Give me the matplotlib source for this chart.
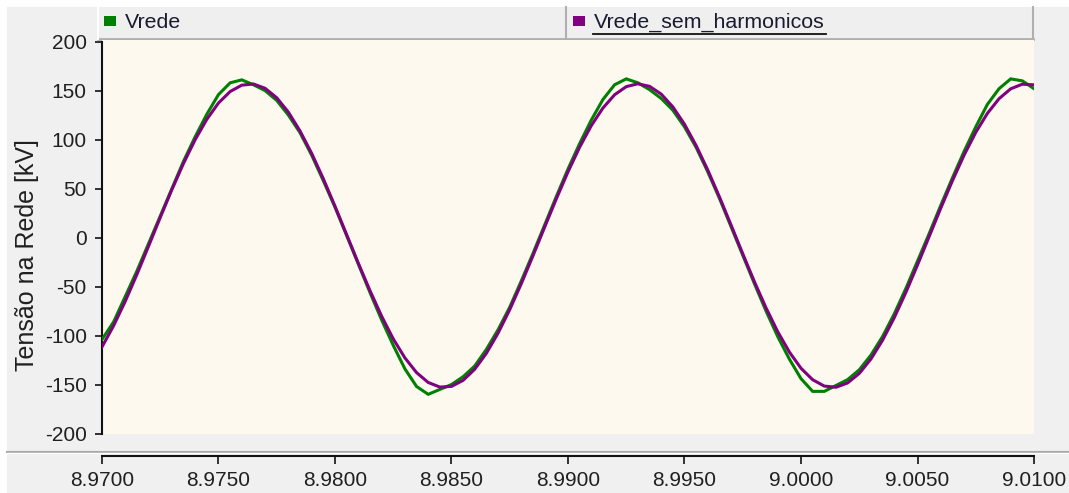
import matplotlib
matplotlib.use("Agg")
import matplotlib.pyplot as plt
from matplotlib.patches import Rectangle
from matplotlib.lines import Line2D
import numpy as np

plt.rcParams['font.family'] = ['Liberation Sans', 'DejaVu Sans']

t_start = 8.970
t_step = 0.0005
# Vrede (with harmonics) [kV]
vrede = [-104, -86, -60, -34, -6, 22, 50, 78, 103, 126,
         146, 158, 161, 156, 150, 140, 125, 107, 84, 58,
         31, 2, -27, -56, -84, -110, -134, -152, -160, -155,
         -150, -142, -131, -114, -94, -71, -44, -16, 13, 42,
         70, 96, 120, 141, 156, 162, 158, 151, 142, 130,
         113, 92, 67, 40, 11, -18, -47, -75, -101, -124,
         -144, -157, -157, -151, -145, -135, -120, -101, -78, -52,
         -24, 4, 33, 61, 88, 113, 136, 152, 162, 160, 152]
# Vrede_sem_harmonicos [kV]
vrede_sh = [-111.6, -89.9, -64.9, -37.5, -8.7, 20.5, 49.0, 75.8, 100.0, 120.8,
            137.4, 149.1, 155.6, 156.8, 152.4, 142.7, 128.0, 108.8, 85.9, 60.0,
            32.0, 3.0, -26.1, -54.1, -80.2, -103.4, -122.8, -137.8, -147.9, -152.6,
            -151.9, -145.7, -134.3, -118.0, -97.5, -73.5, -46.8, -18.4, 10.8, 39.6,
            67.1, 92.3, 114.3, 132.3, 145.8, 154.1, 157.0, 154.4, 146.5, 133.4,
            115.7, 93.9, 68.9, 41.5, 12.7, -16.5, -45.0, -71.8, -96.0, -116.8,
            -133.4, -145.1, -151.6, -152.8, -148.4, -138.7, -124.0, -104.8, -81.9, -56.0,
            -28.0, 1.0, 30.1, 58.1, 84.2, 107.4, 126.8, 141.8, 151.9, 156.6, 155.9]

series_names = ["Vrede", "Vrede_sem_harmonicos"]
series_colors = ["#008000", "#800080"]
xticks = [8.9700, 8.9750, 8.9800, 8.9850, 8.9900, 8.9950, 9.0000, 9.0050, 9.0100]
yticks = [-200, -150, -100, -50, 0, 50, 100, 150, 200]
ylabel = "Tensão na Rede [kV]"

t = t_start + t_step * np.arange(len(vrede))

W, H = 1069, 493
fig = plt.figure(figsize=(W / 100, H / 100), dpi=100, facecolor="white")

def fx(px):
    return px / W

def fy(py):
    return 1 - py / H

# gray panel background
fig.patches.append(Rectangle((fx(7), 0), 1 - fx(7), fy(7), transform=fig.transFigure,
                             facecolor="#f0f0f0", edgecolor="none", zorder=0))

# main plot axes
L, R, T, B = 102, 1034, 40, 433.5
ax = fig.add_axes([fx(L), fy(B), fx(R - L), fy(T) - fy(B)])
ax.set_zorder(5)
ax.set_facecolor("#fdf9ef")
ax.plot(t, vrede, color=series_colors[0], lw=2.2, zorder=3, solid_joinstyle="miter")
ax.plot(t, vrede_sh, color=series_colors[1], lw=2.2, zorder=4, solid_joinstyle="miter")
ax.set_xlim(xticks[0], xticks[-1])
ax.set_ylim(-199.5, 201.7)
for s in ["top", "right", "bottom"]:
    ax.spines[s].set_visible(False)
ax.spines["left"].set_bounds(-200, 200)
ax.spines["left"].set_linewidth(1.5)
ax.spines["left"].set_color("#111111")
ax.set_xticks([])
ax.set_yticks(yticks)
ax.set_yticklabels([str(v) for v in yticks])
ax.tick_params(axis="y", direction="out", length=5, width=1.2, color="#111111",
               labelsize=15, labelcolor="#202020", pad=6)
fig.text(fx(27), fy(255), ylabel, rotation=90, ha="center", va="center",
         fontsize=18, color="#202020", zorder=6)

# x axis band
ax2 = fig.add_axes([fx(L), fy(456), fx(R - L), 0.0001])
ax2.set_zorder(5)
ax2.set_facecolor("none")
for s in ["top", "right", "left"]:
    ax2.spines[s].set_visible(False)
ax2.spines["bottom"].set_linewidth(1.5)
ax2.spines["bottom"].set_color("#111111")
ax2.set_xlim(xticks[0], xticks[-1])
ax2.set_yticks([])
ax2.set_xticks(xticks)
ax2.set_xticklabels([f"{v:.4f}" for v in xticks])
ax2.tick_params(axis="x", direction="out", length=6, width=1.2, color="#111111",
                labelsize=15, labelcolor="#202020", pad=5)

# separator line above x axis band
fig.add_artist(Line2D([fx(7), 1], [fy(451.5), fy(451.5)], color="#a8a8a8", lw=1.5,
                      transform=fig.transFigure))
fig.add_artist(Line2D([fx(7), 1], [fy(453), fy(453)], color="#ffffff", lw=1.0,
                      transform=fig.transFigure))

# legend bar
fig.patches.append(Rectangle((fx(98), fy(39)), fx(1033 - 98), fy(7) - fy(39),
                             transform=fig.transFigure, facecolor="#efefef",
                             edgecolor="none", zorder=1))
fig.add_artist(Line2D([fx(98), fx(1033)], [fy(39), fy(39)], color="#b0b0b0", lw=2,
                      transform=fig.transFigure))
fig.add_artist(Line2D([fx(98), fx(98)], [fy(7), fy(39)], color="#ffffff", lw=1.5,
                      transform=fig.transFigure))
fig.add_artist(Line2D([fx(566), fx(566)], [fy(7), fy(39)], color="#b0b0b0", lw=1.5,
                      transform=fig.transFigure))
fig.add_artist(Line2D([fx(1033), fx(1033)], [fy(7), fy(39)], color="#b0b0b0", lw=1.5,
                      transform=fig.transFigure))

legend_x = [104, 573]
for name, col, lx in zip(series_names, series_colors, legend_x):
    fig.patches.append(Rectangle((fx(lx), fy(26)), fx(12), fy(16) - fy(26),
                                 transform=fig.transFigure, facecolor=col,
                                 edgecolor="none", zorder=2))
    fig.text(fx(lx + 21), fy(22), name, ha="left", va="center", fontsize=15.4,
             color="#1a1a30")
# underline of selected legend entry
fig.add_artist(Line2D([fx(593), fx(826)], [fy(34), fy(34)], color="#111111", lw=1.3,
                      transform=fig.transFigure))

fig.savefig("out.png", dpi=100, facecolor=fig.get_facecolor())
